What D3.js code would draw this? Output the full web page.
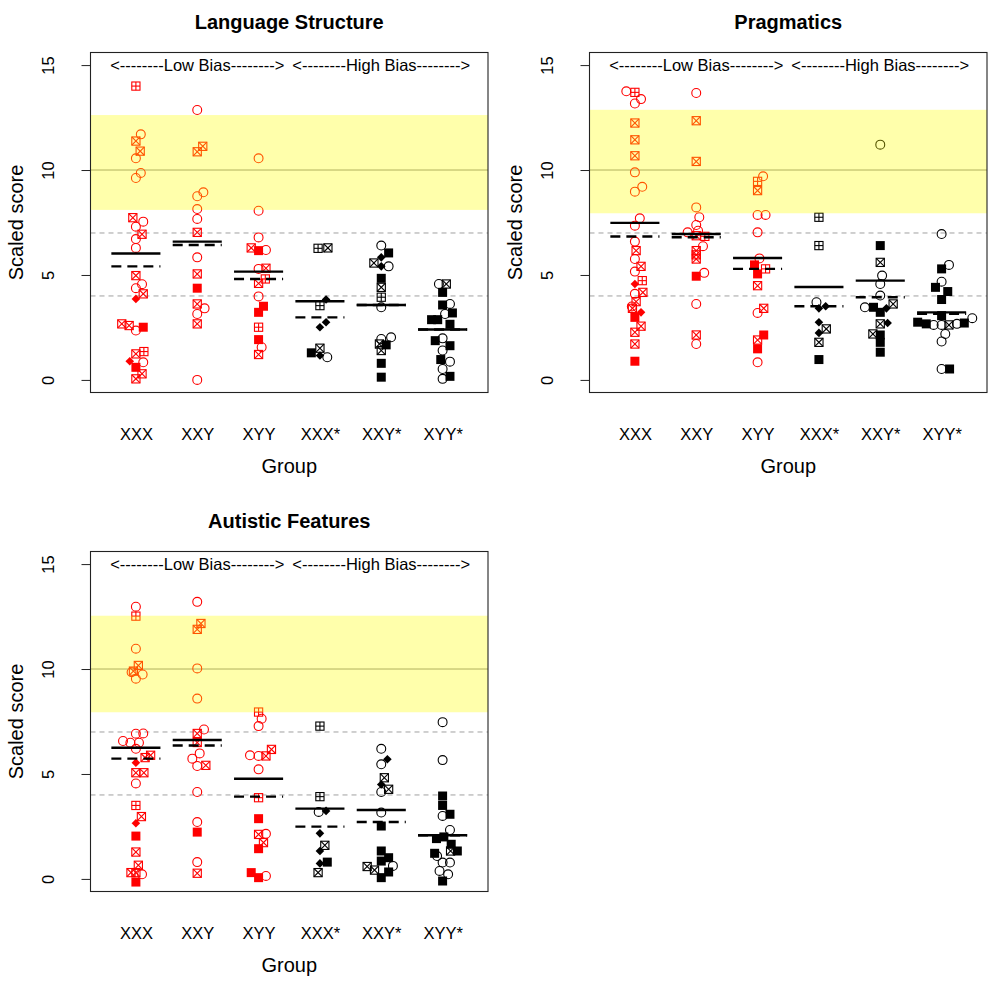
<!DOCTYPE html>
<html><head><meta charset="utf-8">
<script src="https://cdn.jsdelivr.net/npm/d3@7"></script>
<style>body{margin:0;background:#fff} text{font-family:"Liberation Sans",Arial,sans-serif}</style>
</head><body><svg id="c" width="1000" height="985"></svg>
<script>
const groups = ["XXX","XXY","XYY","XXX*","XXY*","XYY*"];
const titles = ["Language Structure","Pragmatics","Autistic Features"];
const biasLabels = ["<--------Low Bias-------->","<--------High Bias-------->"];
const yTicks = [0,5,10,15];
const refLines = [7,4];
const normLine = 10;
const bands = [[8.1,12.62],[7.94,12.87],[7.94,12.54]];

// [group, horizontal jitter, score, symbol]  o=circle x=crossed square +=boxplus s=filled square d=filled diamond
const pointsLS = [
 [1,0,14.0,"+"],[1,.08,11.7,"o"],[1,0,11.38,"x"],[1,.07,10.9,"x"],[1,0,10.56,"o"],[1,.08,9.86,"o"],[1,0,9.62,"o"],
 [1,-.05,7.73,"x"],[1,.12,7.54,"o"],[1,0,7.3,"o"],[1,.1,6.94,"x"],[1,0,6.71,"o"],[1,0,6.29,"o"],[1,0,4.97,"x"],
 [1,.1,4.56,"o"],[1,0,4.37,"o"],[1,.12,4.1,"x"],[1,0,3.86,"d"],[1,-.23,2.67,"x"],[1,-.11,2.59,"x"],[1,0,2.35,"o"],
 [1,.12,2.51,"s"],[1,.13,1.35,"+"],[1,0,1.24,"x"],[1,.12,0.84,"o"],[1,-.1,0.89,"d"],[1,0,0.6,"s"],[1,.1,0.29,"x"],[1,0,0.05,"x"],
 [2,0,12.86,"o"],[2,.09,11.13,"x"],[2,0,10.87,"x"],[2,.1,8.94,"o"],[2,0,8.75,"o"],[2,0,8.14,"o"],[2,0,7.67,"o"],
 [2,0,7.03,"x"],[2,0,5.84,"o"],[2,0,5.05,"x"],[2,0,4.37,"s"],[2,0,3.62,"x"],[2,.12,3.41,"o"],[2,0,3.14,"o"],[2,0,2.67,"x"],[2,0,0.0,"o"],
 [3,0,10.56,"o"],[3,0,8.06,"o"],[3,0,6.79,"o"],[3,-.12,6.29,"x"],[3,0,6.16,"s"],[3,.12,6.19,"o"],[3,0,5.29,"o"],
 [3,.12,5.32,"x"],[3,.11,4.81,"+"],[3,0,4.6,"x"],[3,0,3.98,"o"],[3,.08,3.51,"s"],[3,0,3.22,"s"],[3,0,2.51,"+"],
 [3,0,1.92,"s"],[3,.05,1.56,"o"],[3,0,1.21,"x"],
 [4,-.03,6.27,"+"],[4,.13,6.29,"x"],[4,.1,3.83,"d"],[4,0,3.54,"+"],[4,.1,2.75,"d"],[4,0,2.51,"d"],[4,-.14,1.29,"s"],
 [4,0,1.51,"x"],[4,0,1.16,"d"],[4,.12,1.08,"o"],
 [5,0,6.4,"o"],[5,.12,6.05,"s"],[5,0,5.84,"d"],[5,-.12,5.57,"x"],[5,0,5.41,"d"],[5,.12,5.41,"o"],[5,0,4.84,"s"],
 [5,0,4.41,"x"],[5,0,3.94,"+"],[5,0,3.46,"o"],[5,0,1.95,"o"],[5,.16,2.03,"o"],[5,.08,1.67,"s"],[5,-.03,1.71,"x"],
 [5,0,1.4,"x"],[5,0,0.79,"s"],[5,0,0.13,"s"],
 [6,-.06,4.57,"o"],[6,.06,4.57,"x"],[6,0,4.17,"s"],[6,.12,3.62,"o"],[6,0,3.57,"s"],[6,.16,3.19,"s"],[6,.04,3.14,"o"],
 [6,-.18,2.87,"s"],[6,-.08,2.87,"s"],[6,.12,2.65,"s"],[6,0,1.98,"o"],[6,-.12,1.87,"s"],[6,.12,1.63,"s"],[6,0,1.4,"o"],
 [6,-.03,0.97,"s"],[6,.12,0.87,"o"],[6,0,0.52,"o"],[6,.12,0.17,"s"],[6,0,0.05,"o"]
];
const meansLS = [6.02,6.59,5.16,3.75,3.57,2.4];
const mediansLS = [5.41,6.43,4.81,2.98,3.57,2.4];

const pointsPR = [
 [1,-.14,13.75,"o"],[1,0,13.7,"+"],[1,.1,13.38,"o"],[1,0,13.17,"o"],[1,0,12.24,"x"],[1,0,11.44,"x"],[1,0,10.68,"x"],
 [1,0,9.89,"o"],[1,.12,9.2,"o"],[1,0,8.97,"o"],[1,.08,7.7,"o"],[1,0,7.35,"o"],[1,0,6.59,"o"],[1,.02,6.16,"x"],
 [1,0,5.76,"o"],[1,.1,5.41,"x"],[1,0,5.16,"o"],[1,.12,4.73,"+"],[1,0,4.57,"d"],[1,.13,4.17,"x"],[1,0,4.1,"o"],
 [1,.02,3.73,"x"],[1,-.04,3.41,"x"],[1,-.05,3.5,"o"],[1,.1,3.22,"d"],[1,0,2.98,"s"],[1,.1,2.56,"x"],[1,0,2.27,"x"],
 [1,0,1.71,"x"],[1,0,0.89,"s"],
 [2,0,13.67,"o"],[2,0,12.35,"x"],[2,0,10.41,"x"],[2,0,8.22,"o"],[2,.05,7.75,"o"],[2,0,7.38,"o"],[2,.03,7.11,"o"],
 [2,-.14,7.03,"o"],[2,0,6.87,"x"],[2,.14,6.84,"+"],[2,.11,6.37,"o"],[2,0,6.16,"x"],[2,0,5.96,"x"],[2,0,5.76,"x"],
 [2,.13,5.1,"o"],[2,0,4.94,"s"],[2,0,3.62,"o"],[2,0,2.14,"x"],[2,0,1.71,"o"],
 [3,.09,9.7,"o"],[3,0,9.46,"+"],[3,0,9.02,"x"],[3,0,7.86,"o"],[3,.13,7.86,"o"],[3,0,7.03,"o"],[3,.03,5.79,"o"],
 [3,-.05,5.48,"s"],[3,0,5.05,"s"],[3,.13,5.29,"+"],[3,0,4.49,"x"],[3,.1,3.41,"x"],[3,0,3.19,"o"],[3,.1,2.14,"s"],
 [3,0,1.9,"x"],[3,0,1.48,"s"],[3,0,0.84,"o"],
 [4,0,7.75,"+"],[4,0,6.4,"+"],[4,-.04,3.7,"o"],[4,0,3.41,"d"],[4,.11,3.51,"d"],[4,0,2.75,"d"],[4,.12,2.43,"x"],
 [4,0,2.24,"d"],[4,0,1.79,"x"],[4,0,0.97,"s"],
 [5,0,11.21,"o"],[5,0,6.4,"s"],[5,0,5.6,"x"],[5,.03,4.97,"o"],[5,0,4.57,"o"],[5,0,4.02,"o"],[5,.21,3.62,"x"],
 [5,-.25,3.46,"o"],[5,-.11,3.46,"s"],[5,0,3.22,"s"],[5,.1,3.41,"d"],[5,0,2.67,"x"],[5,.12,2.71,"d"],[5,-.12,2.19,"x"],
 [5,0,2.14,"s"],[5,0,1.79,"s"],[5,0,1.32,"s"],
 [6,0,6.95,"o"],[6,.12,5.48,"o"],[6,0,5.29,"s"],[6,0,4.68,"o"],[6,-.1,4.41,"s"],[6,.1,4.21,"s"],[6,0,3.83,"s"],
 [6,0,3.06,"s"],[6,-.39,2.75,"s"],[6,-.25,2.67,"s"],[6,-.13,2.62,"o"],[6,0,2.62,"o"],[6,.12,2.62,"x"],[6,.25,2.67,"o"],
 [6,.37,2.71,"s"],[6,.5,2.94,"o"],[6,.06,2.19,"o"],[6,0,1.83,"o"],[6,0,0.52,"o"],[6,.13,0.52,"s"]
];
const meansPR = [7.48,6.95,5.81,4.43,4.73,3.22];
const mediansPR = [6.83,6.8,5.29,3.51,3.94,3.15];

const pointsAF = [
 [1,0,12.97,"o"],[1,0,12.52,"+"],[1,0,10.97,"o"],[1,.04,10.17,"x"],[1,-.04,9.9,"x"],[1,-.07,9.85,"o"],[1,.11,9.74,"o"],
 [1,0,9.54,"o"],[1,.12,6.93,"o"],[1,0,6.92,"o"],[1,-.21,6.57,"o"],[1,-.09,6.49,"o"],[1,.05,6.49,"o"],[1,0,6.2,"o"],
 [1,.24,5.89,"x"],[1,.15,5.78,"x"],[1,0,5.54,"d"],[1,0,5.06,"x"],[1,.13,5.06,"x"],[1,0,4.55,"o"],[1,0,3.5,"+"],
 [1,.09,2.97,"x"],[1,0,2.65,"d"],[1,0,2.04,"s"],[1,0,1.28,"x"],[1,.04,0.65,"x"],[1,-.08,0.3,"x"],[1,.1,0.22,"o"],
 [1,0,0.3,"x"],[1,0,-0.15,"s"],
 [2,0,13.2,"o"],[2,.06,12.17,"x"],[2,0,11.89,"x"],[2,0,10.03,"o"],[2,0,8.59,"o"],[2,.11,7.12,"o"],[2,0,6.93,"x"],
 [2,0,6.5,"x"],[2,.04,5.98,"o"],[2,-.08,5.73,"o"],[2,0,5.38,"o"],[2,.14,5.41,"x"],[2,0,4.14,"o"],[2,0,2.71,"o"],
 [2,0,2.23,"s"],[2,0,0.8,"o"],[2,0,0.27,"x"],
 [3,0,7.95,"+"],[3,.05,7.63,"o"],[3,0,7.28,"o"],[3,.21,6.17,"x"],[3,.12,5.86,"x"],[3,-.14,5.89,"o"],[3,0,5.86,"o"],
 [3,0,5.22,"o"],[3,0,3.87,"+"],[3,0,2.87,"s"],[3,0,2.12,"x"],[3,.12,2.15,"o"],[3,.08,1.73,"x"],[3,0,1.44,"s"],
 [3,-.12,0.3,"s"],[3,0,0.06,"s"],[3,.12,0.14,"o"],
 [4,0,7.28,"+"],[4,0,3.92,"+"],[4,-.02,3.19,"o"],[4,.1,3.24,"d"],[4,0,2.17,"d"],[4,.08,1.6,"x"],[4,0,1.33,"d"],
 [4,0,0.74,"d"],[4,.12,0.8,"s"],[4,-.03,0.3,"x"],
 [5,0,6.2,"o"],[5,.1,5.7,"d"],[5,0,5.46,"o"],[5,.05,4.82,"x"],[5,0,4.5,"d"],[5,0,4.14,"o"],[5,.12,4.27,"x"],
 [5,0,3.16,"o"],[5,0,2.52,"s"],[5,0,1.33,"s"],[5,.12,1.01,"s"],[5,0,0.85,"s"],[5,.19,0.62,"o"],[5,-.23,0.59,"x"],
 [5,-.11,0.42,"x"],[5,.12,0.33,"s"],[5,0,0.06,"s"],
 [6,0,7.47,"o"],[6,0,5.66,"o"],[6,0,3.95,"s"],[6,0,3.5,"s"],[6,.12,3.08,"s"],[6,0,3.0,"o"],[6,.12,2.33,"o"],
 [6,-.1,1.92,"s"],[6,.02,2.0,"s"],[6,.14,1.65,"s"],[6,.24,1.33,"s"],[6,-.13,1.22,"s"],[6,-.09,1.09,"o"],[6,.13,1.33,"x"],
 [6,0,0.78,"o"],[6,.12,0.78,"o"],[6,-.05,0.38,"o"],[6,.09,0.22,"o"],[6,0,-0.1,"s"]
];
const meansAF = [6.25,6.62,4.77,3.35,3.28,2.08];
const mediansAF = [5.73,6.36,3.92,2.49,2.71,2.08];

const svg = d3.select("#c");
const W = 397.5, H = 340;

function symbol(g, cx, cy, shape, col) {
  if (shape === "o") {
    g.append("circle").attr("cx",cx).attr("cy",cy).attr("r",4.45)
      .attr("fill","none").attr("stroke",col).attr("stroke-width",1.1);
  } else if (shape === "x" || shape === "+") {
    const h = 4.1;
    g.append("rect").attr("x",cx-h).attr("y",cy-h).attr("width",2*h).attr("height",2*h)
      .attr("fill","none").attr("stroke",col).attr("stroke-width",1.1);
    const segs = shape === "x"
      ? [[cx-h,cy-h,cx+h,cy+h],[cx-h,cy+h,cx+h,cy-h]]
      : [[cx-h,cy,cx+h,cy],[cx,cy-h,cx,cy+h]];
    segs.forEach(s => g.append("line").attr("x1",s[0]).attr("y1",s[1]).attr("x2",s[2]).attr("y2",s[3])
      .attr("stroke",col).attr("stroke-width",1.1));
  } else if (shape === "s") {
    const h = 4.5;
    g.append("rect").attr("x",cx-h).attr("y",cy-h).attr("width",2*h).attr("height",2*h).attr("fill",col);
  } else if (shape === "d") {
    const h = 4.3;
    g.append("path").attr("d",`M${cx},${cy-h}L${cx+h},${cy}L${cx},${cy+h}L${cx-h},${cy}Z`).attr("fill",col);
  }
}

function panel(x0, y0, title, pts, means, medians, band) {
  const x = d3.scaleLinear().domain([0.26, 6.74]).range([x0, x0 + W]);
  const y = d3.scaleLinear().domain([-0.6, 15.6]).range([y0 + H, y0]);
  const g = svg.append("g");

  refLines.forEach(v => g.append("line").attr("x1",x0).attr("x2",x0+W).attr("y1",y(v)).attr("y2",y(v))
    .attr("stroke","#a0a0a0").attr("stroke-width",1).attr("stroke-dasharray","5,4"));
  g.append("line").attr("x1",x0).attr("x2",x0+W).attr("y1",y(normLine)).attr("y2",y(normLine))
    .attr("stroke","#8c8c8c").attr("stroke-width",1);

  pts.forEach(p => symbol(g, x(p[0] + p[1]), y(p[2]), p[3], p[0] <= 3 ? "#ff0000" : "#000000"));

  means.forEach((m, i) => g.append("line").attr("x1",x(i+1-0.4)).attr("x2",x(i+1+0.4))
    .attr("y1",y(m)).attr("y2",y(m)).attr("stroke","#000").attr("stroke-width",2.4));
  medians.forEach((m, i) => g.append("line").attr("x1",x(i+1-0.4)).attr("x2",x(i+1+0.4))
    .attr("y1",y(m)).attr("y2",y(m)).attr("stroke","#000").attr("stroke-width",2.4)
    .attr("stroke-dasharray","10,6"));

  g.append("rect").attr("x",x0).attr("y",y(band[1])).attr("width",W).attr("height",y(band[0])-y(band[1]))
    .attr("fill","#ffff00").attr("fill-opacity",0.33);

  g.append("text").attr("x",x(2)).attr("y",y0+18.5).attr("text-anchor","middle").attr("font-size",16.5).text(biasLabels[0]);
  g.append("text").attr("x",x(5)).attr("y",y0+18.5).attr("text-anchor","middle").attr("font-size",16.5).text(biasLabels[1]);

  g.append("rect").attr("x",x0).attr("y",y0).attr("width",W).attr("height",H)
    .attr("fill","none").attr("stroke","#222").attr("stroke-width",1.1);

  const ya = g.append("g").attr("transform",`translate(${x0},0)`)
    .call(d3.axisLeft(y).tickValues(yTicks).tickSize(9).tickFormat(d3.format("d")));
  ya.select(".domain").remove();
  ya.selectAll("line").attr("stroke","#222");
  ya.selectAll("text").attr("x",null).attr("dy",null).attr("fill","#000")
    .attr("font-size",16.5).attr("font-family","Liberation Sans, Arial, sans-serif")
    .attr("text-anchor","middle").attr("transform","translate(-36.5,0) rotate(-90)");

  const xa = g.append("g").attr("transform",`translate(0,${y0+H})`)
    .call(d3.axisBottom(x).tickValues([1,2,3,4,5,6]).tickSize(0).tickFormat(d => groups[d-1]));
  xa.select(".domain").remove();
  xa.selectAll("text").attr("y",47.5).attr("dy",null).attr("fill","#000")
    .attr("font-size",16.5).attr("font-family","Liberation Sans, Arial, sans-serif");

  g.append("text").attr("x",x0+W/2).attr("y",y0+H+80).attr("text-anchor","middle").attr("font-size",20).text("Group");
  g.append("text").attr("transform",`translate(${x0-67.5},${y0+H/2}) rotate(-90)`)
    .attr("text-anchor","middle").attr("font-size",20).text("Scaled score");
  g.append("text").attr("x",x0+W/2).attr("y",y0-24).attr("text-anchor","middle")
    .attr("font-size",20).attr("font-weight","bold").text(title);
}

panel(90.5, 52.5, titles[0], pointsLS, meansLS, mediansLS, bands[0]);
panel(589.5, 52.5, titles[1], pointsPR, meansPR, mediansPR, bands[1]);
panel(90.5, 551.5, titles[2], pointsAF, meansAF, mediansAF, bands[2]);
</script>
</body></html>
